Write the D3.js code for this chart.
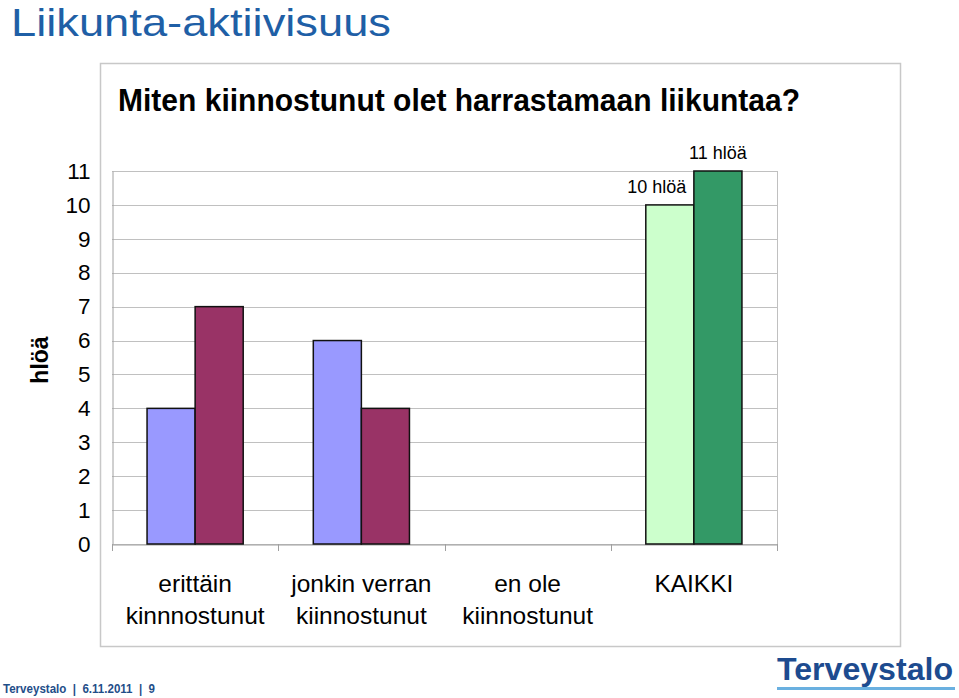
<!DOCTYPE html>
<html><head><meta charset="utf-8">
<script src="https://cdn.jsdelivr.net/npm/d3@7"></script>
<style>
html,body{margin:0;padding:0;background:#fff;}
svg{display:block;}
</style></head>
<body>
<svg id="chart" width="959" height="698"></svg>
<script>
const pageTitle = "Liikunta-aktiivisuus";
const chartTitle = "Miten kiinnostunut olet harrastamaan liikuntaa?";
const yAxisLabel = "hlöä";
const categories = [["erittäin", "kinnnostunut"], ["jonkin verran", "kiinnostunut"], ["en ole", "kiinnostunut"], ["KAIKKI"]];
const series1 = [4, 6, 0, 10];
const series2 = [7, 4, 0, 11];
const series1Colors = ["#9999FF", "#9999FF", "#9999FF", "#CCFFCC"];
const series2Colors = ["#993366", "#993366", "#993366", "#339966"];
const series1Labels = [null, null, null, "10 hlöä"];
const series2Labels = [null, null, null, "11 hlöä"];
const yTicks = [0,1,2,3,4,5,6,7,8,9,10,11];
const footerText = "Terveystalo  |  6.11.2011  |  9";
const logoText = "Terveystalo";

(function () {
const svg = d3.select("#chart");
const font = "'Liberation Sans', Arial, sans-serif";

// page title
svg.append("text").attr("x", 11).attr("y", 36).attr("font-family", font)
  .attr("font-size", 39).attr("fill", "#1F5FA6")
  .attr("textLength", 380).attr("lengthAdjust", "spacingAndGlyphs").text(pageTitle);

// outer chart box
svg.append("rect").attr("x", 100.5).attr("y", 63.5).attr("width", 800).attr("height", 583)
  .attr("fill", "none").attr("stroke", "#C8C8C8").attr("stroke-width", 1.5);

// chart title
svg.append("text").attr("x", 118).attr("y", 111)
  .attr("font-family", "'Liberation Sans Narrow', 'Arial Narrow', " + font)
  .attr("font-weight", "bold").attr("font-size", 31).attr("fill", "#000")
  .attr("textLength", 682).attr("lengthAdjust", "spacingAndGlyphs")
  .text(chartTitle);

const pLeft = 112, pRight = 777, pTop = 171, pBottom = 544;
const catKeys = categories.map((c, i) => i);
const x0 = d3.scaleBand().domain(catKeys).range([pLeft, pRight]).paddingInner(0).paddingOuter(0);
const x1 = d3.scaleBand().domain([0, 1]).range([0, x0.bandwidth()]).paddingInner(0).paddingOuter(0.729);
const y = d3.scaleLinear().domain([0, 11]).range([pBottom, pTop]);

// gridlines
svg.append("g").selectAll("line").data(yTicks).join("line")
  .attr("x1", pLeft).attr("x2", pRight)
  .attr("y1", d => Math.round(y(d)) + 0.5).attr("y2", d => Math.round(y(d)) + 0.5)
  .attr("stroke", "#C0C0C0").attr("stroke-width", 1);

// plot area right border
svg.append("line").attr("x1", pRight + 0.5).attr("x2", pRight + 0.5).attr("y1", pTop).attr("y2", pBottom)
  .attr("stroke", "#C0C0C0");

// y axis
const yAxis = svg.append("g").attr("transform", `translate(${pLeft + 0.5},0)`)
  .call(d3.axisLeft(y).tickValues(yTicks).tickSize(0).tickPadding(22).tickFormat(d3.format("d")));
yAxis.select(".domain").attr("stroke", "#A0A0A0");
yAxis.selectAll("text").attr("font-family", font).attr("font-size", 22.5).attr("fill", "#000");

// x axis
const xAxis = svg.append("g").attr("transform", `translate(0,${pBottom + 0.5})`)
  .call(d3.axisBottom(x0).tickSize(0).tickFormat(""));
xAxis.select(".domain").attr("stroke", "#A0A0A0");
const boundaries = catKeys.map(i => x0(i)).concat([pRight]);
svg.append("g").selectAll("line").data(boundaries).join("line")
  .attr("x1", d => Math.round(d) + 0.5).attr("x2", d => Math.round(d) + 0.5)
  .attr("y1", pBottom).attr("y2", pBottom + 7).attr("stroke", "#A0A0A0");

// category labels
const catG = svg.append("g");
categories.forEach((lines, i) => {
  const t = catG.append("text").attr("text-anchor", "middle").attr("font-family", font)
    .attr("font-size", 24.5).attr("fill", "#000");
  lines.forEach((ln, j) => {
    t.append("tspan").attr("x", x0(i) + x0.bandwidth() / 2).attr("y", 592 + j * 32).text(ln);
  });
});

// bars
const seriesList = [
  {vals: series1, colors: series1Colors, labels: series1Labels},
  {vals: series2, colors: series2Colors, labels: series2Labels}
];
seriesList.forEach((s, si) => {
  const data = s.vals.map((v, i) => ({v, i})).filter(d => d.v > 0);
  svg.append("g").selectAll("rect").data(data).join("rect")
    .attr("x", d => x0(d.i) + x1(si))
    .attr("y", d => y(d.v))
    .attr("width", x1.bandwidth())
    .attr("height", d => y(0) - y(d.v))
    .attr("fill", d => s.colors[d.i])
    .attr("stroke", "#111").attr("stroke-width", 1.5);
});

// value labels
svg.append("text").attr("x", x0(3) + x1(0) + x1.bandwidth() / 2 - 13).attr("y", y(series1[3]) - 12)
  .attr("text-anchor", "middle").attr("font-family", font).attr("font-size", 18).text(series1Labels[3]);
svg.append("text").attr("x", x0(3) + x1(1) + x1.bandwidth() / 2).attr("y", y(series2[3]) - 12)
  .attr("text-anchor", "middle").attr("font-family", font).attr("font-size", 18).text(series2Labels[3]);

// y axis title
svg.append("text").attr("transform", "translate(48,360) rotate(-90)")
  .attr("text-anchor", "middle").attr("font-family", font).attr("font-weight", "bold")
  .attr("font-size", 23).attr("fill", "#000").text(yAxisLabel);

// footer
svg.append("text").attr("x", 3).attr("y", 693).attr("font-family", font).attr("font-weight", "bold")
  .attr("font-size", 12.5).attr("fill", "#1F4E89").style("white-space", "pre")
  .attr("textLength", 152).attr("lengthAdjust", "spacingAndGlyphs")
  .text(footerText);

// logo
svg.append("text").attr("x", 777).attr("y", 680).attr("font-family", font).attr("font-weight", "bold")
  .attr("font-size", 31).attr("fill", "#1D4B8F").attr("textLength", 176).attr("lengthAdjust", "spacingAndGlyphs")
  .text(logoText);
svg.append("rect").attr("x", 777).attr("y", 687).attr("width", 178).attr("height", 3).attr("fill", "#6AB0E0");
})();
</script>
</body></html>
